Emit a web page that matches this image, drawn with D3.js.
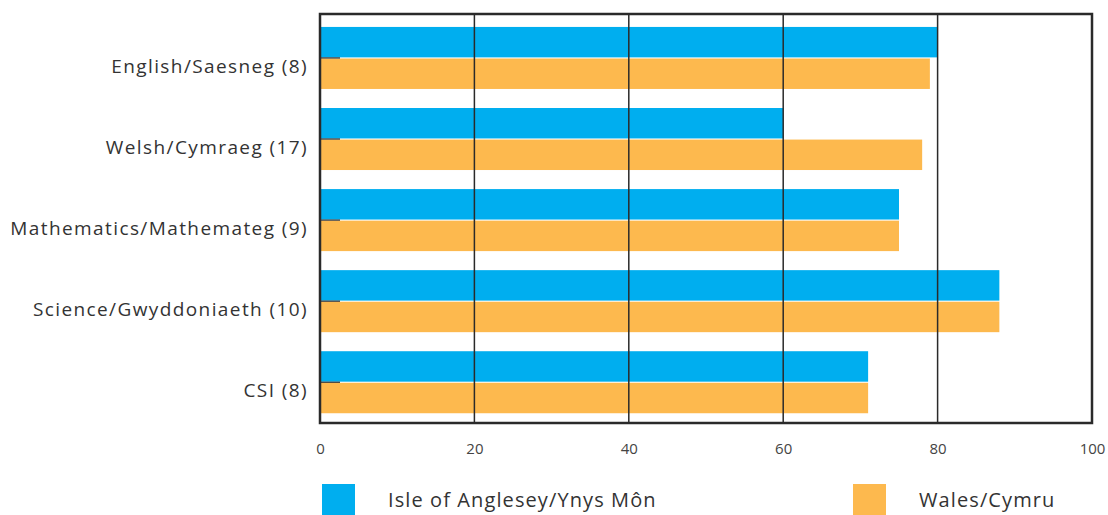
<!DOCTYPE html>
<html>
<head>
<meta charset="utf-8">
<script src="https://cdn.jsdelivr.net/npm/d3@7"></script>
<style>
  html, body { margin: 0; padding: 0; background: #fff; }
  svg { display: block; font-family: 'Open Sans', sans-serif; }
</style>
</head>
<body>
<svg id="chart" width="1108" height="515"></svg>
<script>
const categories = ['English/Saesneg (8)', 'Welsh/Cymraeg (17)', 'Mathematics/Mathemateg (9)', 'Science/Gwyddoniaeth (10)', 'CSI (8)']
const seriesNames = ['Isle of Anglesey/Ynys Môn', 'Wales/Cymru']
const angleseyValues = [80, 60, 75, 88, 71]
const walesValues    = [79, 78, 75, 88, 71]
const xTicks = [0, 20, 40, 60, 80, 100]

const COLORS = ['#00aeef', '#fdb94e']
const FONT = "'Open Sans', sans-serif"

const svg = d3.select('#chart')
const m = { left: 320, top: 14, right: 1092, bottom: 423 }

const x = d3.scaleLinear().domain([0, 100]).range([m.left, m.right])
const y = d3.scaleBand().domain(categories).range([m.top, m.bottom])
  .paddingInner(0.235).paddingOuter(0.14).align(0.57)
const inner = d3.scaleBand().domain(seriesNames).range([0, y.bandwidth()]).paddingInner(0.035)

const rows = categories.map((c, i) => ({ cat: c, vals: [angleseyValues[i], walesValues[i]] }))

// bars
const g = svg.append('g')
rows.forEach(r => {
  r.vals.forEach((v, j) => {
    g.append('rect')
      .attr('x', x(0))
      .attr('y', y(r.cat) + inner(seriesNames[j]))
      .attr('width', x(v) - x(0))
      .attr('height', inner.bandwidth())
      .attr('fill', COLORS[j])
  })
})

// gridlines
svg.append('g').selectAll('line').data(xTicks.filter(t => t > 0 && t < 100)).enter().append('line')
  .attr('x1', d => x(d)).attr('x2', d => x(d))
  .attr('y1', m.top).attr('y2', m.bottom)
  .attr('stroke', '#2a2a2a').attr('stroke-width', 1.5)

// short category ticks inside the frame
svg.append('g').selectAll('line').data(categories).enter().append('line')
  .attr('x1', m.left).attr('x2', m.left + 20)
  .attr('y1', d => y(d) + y.bandwidth() / 2).attr('y2', d => y(d) + y.bandwidth() / 2)
  .attr('stroke', '#2a2a2a').attr('stroke-width', 1.2)

// frame
svg.append('rect')
  .attr('x', m.left).attr('y', m.top)
  .attr('width', m.right - m.left).attr('height', m.bottom - m.top)
  .attr('fill', 'none').attr('stroke', '#2a2a2a').attr('stroke-width', 2.5)

// x axis labels
const xAxis = d3.axisBottom(x).tickValues(xTicks).tickSize(0).tickPadding(20)
const xg = svg.append('g').attr('transform', `translate(0,${m.bottom})`).call(xAxis)
xg.select('.domain').remove()
xg.selectAll('text').attr('font-size', '15px').attr('fill', '#444').attr('font-family', FONT)

// y labels
const yAxis = d3.axisLeft(y).tickSize(0).tickPadding(12)
const yg = svg.append('g').attr('transform', `translate(${m.left},0)`).call(yAxis)
yg.select('.domain').remove()
yg.selectAll('text').attr('font-size', '19px').attr('fill', '#333').attr('dy', '0.8em')
  .attr('font-family', FONT).attr('letter-spacing', '1.4px')

// legend
const legendX = [322, 853]
const leg = svg.append('g').selectAll('g').data(seriesNames).enter().append('g')
  .attr('transform', (d, i) => `translate(${legendX[i]},484)`)
leg.append('rect').attr('width', 33).attr('height', 33).attr('fill', (d, i) => COLORS[i])
leg.append('text').attr('x', 66).attr('y', 23).text(d => d)
  .attr('font-size', '20px').attr('fill', '#333').attr('font-family', FONT).attr('letter-spacing', '1.1px')
</script>
</body>
</html>
